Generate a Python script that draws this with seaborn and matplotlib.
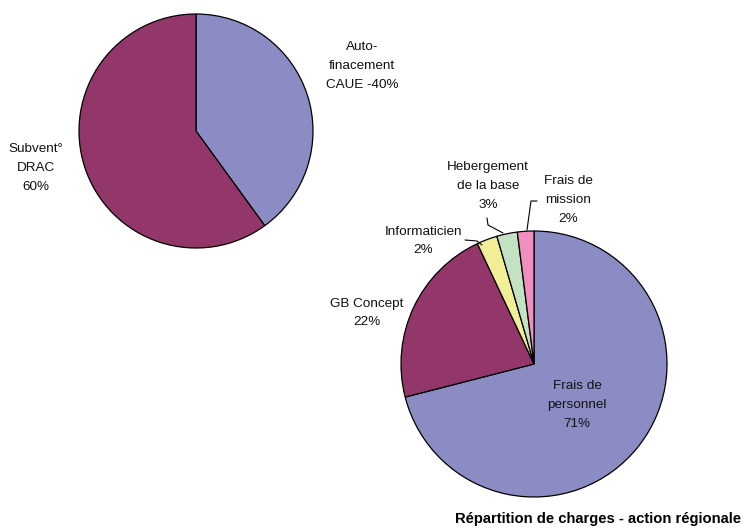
import matplotlib
matplotlib.use("Agg")
import matplotlib.pyplot as plt
import seaborn as sns

# financement (left pie)
fin_labels = ["Auto-\nfinacement\nCAUE -40%", "Subvent°\nDRAC\n60%"]
fin_values = [40, 60]
fin_colors = ["#8B8CC4", "#93366A"]

# charges (right pie)
chg_labels = ["Frais de\npersonnel\n71%", "GB Concept\n22%", "Informaticien\n2%",
              "Hebergement\nde la base\n3%", "Frais de\nmission\n2%"]
chg_values = [71, 22, 2.5, 2.5, 2]
chg_colors = ["#8B8CC4", "#93366A", "#F2EE98", "#C3E2C3", "#EF8FC0"]

title = "Répartition de charges - action régionale"

sns.set_theme(style="white")
plt.rcParams["font.family"] = ["Liberation Sans", "DejaVu Sans"]

W, H = 747, 528
fig = plt.figure(figsize=(W / 100, H / 100), dpi=100)
ax = fig.add_axes([0, 0, 1, 1])


def py(y):
    # pixel coords measured from the top of the picture
    return H - y


wedge = dict(edgecolor="black", linewidth=0.9)
ax.pie(fin_values, colors=fin_colors, startangle=90, counterclock=False,
       center=(196, py(131)), radius=117, wedgeprops=wedge, frame=True)
ax.pie(chg_values, colors=chg_colors, startangle=90, counterclock=False,
       center=(534, py(364)), radius=133, wedgeprops=wedge, frame=True)
ax.set_xlim(0, W)
ax.set_ylim(0, H)
ax.set_aspect("equal")
ax.axis("off")

txt = dict(ha="center", va="center", fontsize=9.7, color="#111111", linespacing=1.75)
fin_pos = [(362, 66), (36, 168)]
for lab, (x, y) in zip(fin_labels, fin_pos):
    ax.text(x, py(y), lab, **txt)

chg_pos = [(577, 405), (367, 313), (423, 241), (488, 186), (568, 200)]
for lab, (x, y) in zip(chg_labels, chg_pos):
    ax.text(x, py(y), lab, **txt)

# leader lines
leaders = [
    [(465, 240), (477, 241), (482, 245)],
    [(487, 218), (488, 225), (503, 233)],
    [(537, 201), (531, 201), (527, 230)],
]
for pts in leaders:
    ax.plot([p[0] for p in pts], [py(p[1]) for p in pts], color="black", lw=0.8)

ax.text(455, py(519), title, ha="left", va="center", fontsize=10.6,
        fontweight="bold", color="black")

fig.savefig("out.png", dpi=100, facecolor="white")
